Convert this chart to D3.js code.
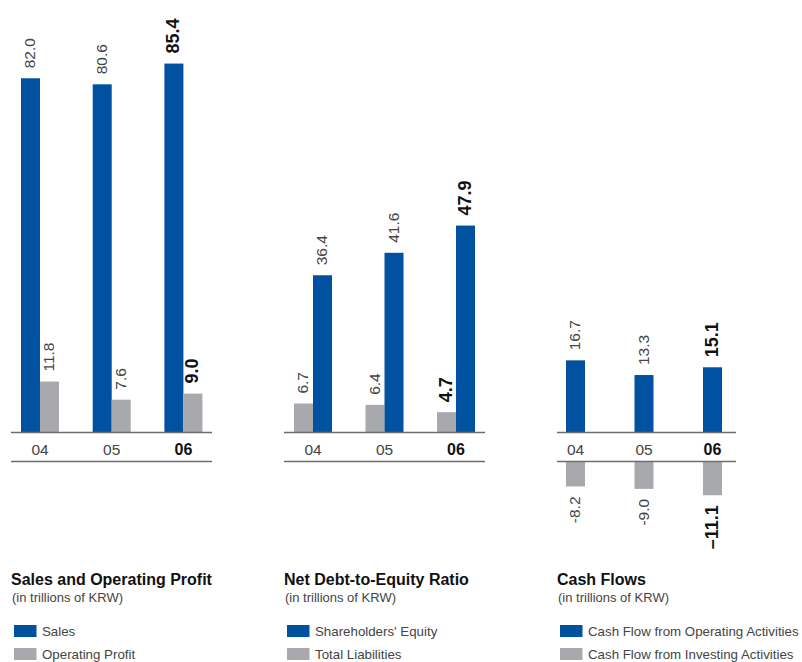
<!DOCTYPE html>
<html>
<head>
<meta charset="utf-8">
<script src="https://cdn.jsdelivr.net/npm/d3@7"></script>
<style>
  body { margin: 0; background: #fff; }
  svg { display: block; font-family: "Liberation Sans", Arial, sans-serif; }
</style>
</head>
<body>
<svg width="802" height="662"></svg>
<script>
const years = ["04", "05", "06"];
const sales = [82.0, 80.6, 85.4];
const operatingProfit = [11.8, 7.6, 9.0];
const shareholdersEquity = [36.4, 41.6, 47.9];
const totalLiabilities = [6.7, 6.4, 4.7];
const operatingCashFlow = [16.7, 13.3, 15.1];
const investingCashFlow = [-8.2, -9.0, -11.1];

const titles = ["Sales and Operating Profit", "Net Debt-to-Equity Ratio", "Cash Flows"];
const subtitle = "(in trillions of KRW)";
const legends = [
    ["Sales", "Operating Profit"],
    ["Shareholders' Equity", "Total Liabilities"],
    ["Cash Flow from Operating Activities", "Cash Flow from Investing Activities"]
];

const blue = "#0052a0", grey = "#a8a9ad", axisColor = "#6d6d6d";
const svg = d3.select("svg");

const base = 432.5, lowerAxis = 461.5;
// positive bars share one scale, the negative cash flows hang under the year row
const y = d3.scaleLinear().domain([0, 100]).range([base, base - 432]);
const yNeg = d3.scaleLinear().domain([0, -12]).range([lowerAxis, lowerAxis + 36.5]);
const barW = 19;
const fmt = d3.format(".1f");

const panels = [
    {dx: 0, axis: [11, 212], centers: [40, 183.4],
     series: [{values: sales, color: blue, off: -barW}, {values: operatingProfit, color: grey, off: 0}]},
    {dx: 273, axis: [11, 212], centers: [40, 183],
     series: [{values: totalLiabilities, color: grey, off: -barW}, {values: shareholdersEquity, color: blue, off: 0}]},
    {dx: 546, axis: [11, 190], centers: [29.5, 166.5],
     series: [{values: operatingCashFlow, color: blue, off: -barW / 2}, {values: investingCashFlow, color: grey, off: -barW / 2}]}
];

panels.forEach((p, pi) => {
    const g = svg.append("g").attr("transform", `translate(${p.dx},0)`);
    const x = d3.scalePoint().domain(years).range(p.centers);

    p.series.forEach(s => {
        const data = s.values.map((v, i) => ({year: years[i], v, last: i === years.length - 1}));
        g.append("g").selectAll("rect")
            .data(data)
            .join("rect")
            .attr("x", d => x(d.year) + s.off)
            .attr("width", barW)
            .attr("y", d => d.v >= 0 ? y(d.v) : lowerAxis)
            .attr("height", d => d.v >= 0 ? base - y(d.v) : yNeg(d.v) - lowerAxis)
            .attr("fill", s.color);

        g.append("g").selectAll("text")
            .data(data)
            .join("text")
            .attr("transform", d => {
                const cx = x(d.year) + s.off + barW / 2 - 1;
                const cy = d.v >= 0 ? y(d.v) - 10 : yNeg(d.v) + 10;
                return `translate(${cx},${cy}) rotate(-90)`;
            })
            .attr("dy", "0.36em")
            .attr("text-anchor", d => d.v >= 0 ? "start" : "end")
            .attr("font-size", d => d.last ? 18 : 15.5)
            .attr("font-weight", d => d.last ? "bold" : "normal")
            .attr("fill", d => d.last ? "#111" : "#444")
            .text(d => d.v < 0 ? (d.last ? "\u2013" : "-") + fmt(-d.v) : fmt(d.v));
    });

    g.selectAll("line.axis")
        .data([base, lowerAxis])
        .join("line")
        .attr("class", "axis")
        .attr("x1", p.axis[0]).attr("x2", p.axis[1])
        .attr("y1", d => d).attr("y2", d => d)
        .attr("stroke", axisColor)
        .attr("stroke-width", 1.3);

    g.append("g").selectAll("text")
        .data(years)
        .join("text")
        .attr("x", d => x(d))
        .attr("y", 455)
        .attr("text-anchor", "middle")
        .attr("font-size", (d, i) => i === 2 ? 16 : 15.5)
        .attr("font-weight", (d, i) => i === 2 ? "bold" : "normal")
        .attr("fill", (d, i) => i === 2 ? "#111" : "#444")
        .text(d => d);

    // title + legend block
    g.append("text")
        .attr("x", 11).attr("y", 585)
        .attr("font-size", 16).attr("font-weight", "bold")
        .attr("fill", "#111")
        .text(titles[pi]);
    g.append("text")
        .attr("x", 12).attr("y", 602)
        .attr("font-size", 13).attr("fill", "#444")
        .text(subtitle);

    const leg = g.append("g").selectAll("g")
        .data(legends[pi])
        .join("g")
        .attr("transform", (d, i) => `translate(14,${625 + i * 23})`);
    leg.append("rect")
        .attr("width", 22.5).attr("height", 12)
        .attr("fill", (d, i) => pi === 1 ? (i === 0 ? blue : grey) : p.series[i].color);
    leg.append("text")
        .attr("x", 28).attr("y", 11)
        .attr("font-size", 13.3).attr("fill", "#444")
        .text(d => d);
});
</script>
</body>
</html>
